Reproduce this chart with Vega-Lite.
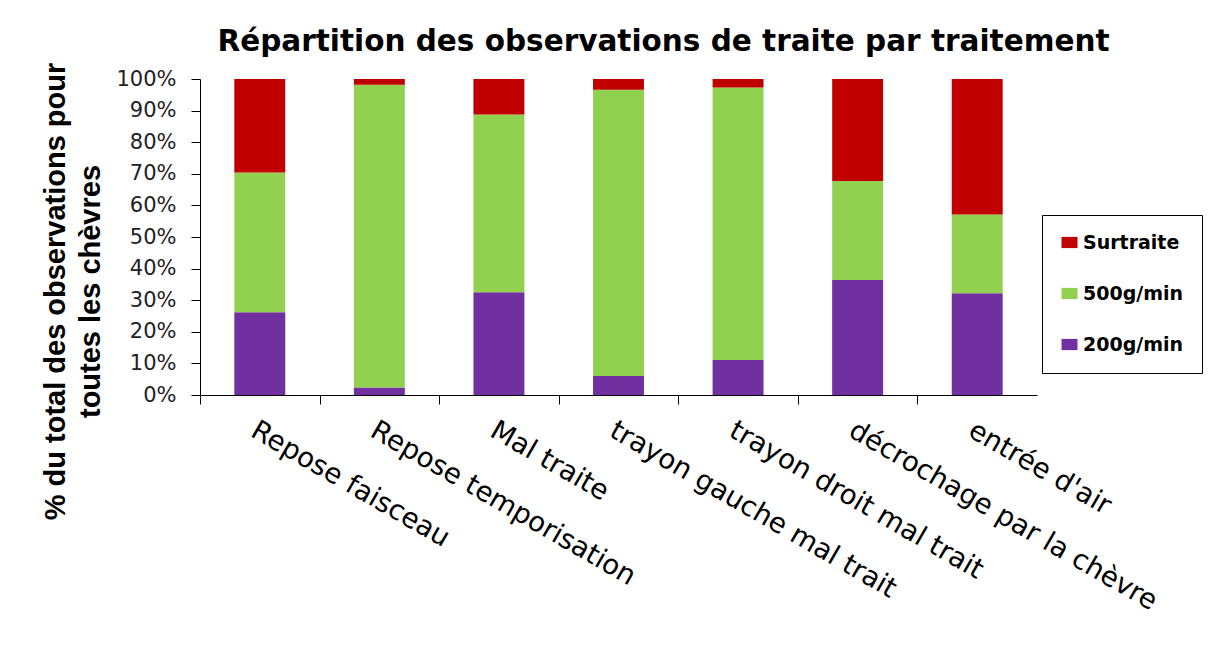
{
  "$schema": "https://vega.github.io/schema/vega-lite/v6.json",
  "width": 837,
  "height": 316,
  "autosize": {"type": "none"},
  "padding": {"left": 200, "top": 79, "right": 180, "bottom": 273},
  "background": "white",
  "title": {
    "text": "Répartition des observations de traite par traitement",
    "font": "DejaVu Sans",
    "fontSize": 29.5,
    "fontWeight": "bold",
    "color": "black",
    "anchor": "middle",
    "frame": "group",
    "dx": 45,
    "offset": 5
  },
  "data": {
    "values": [
      {"traitement": "Repose faisceau", "serie": "200g/min", "valeur": 26.2},
      {"traitement": "Repose faisceau", "serie": "500g/min", "valeur": 44.2},
      {"traitement": "Repose faisceau", "serie": "Surtraite", "valeur": 29.6},
      {"traitement": "Repose temporisation", "serie": "200g/min", "valeur": 2.4},
      {"traitement": "Repose temporisation", "serie": "500g/min", "valeur": 95.8},
      {"traitement": "Repose temporisation", "serie": "Surtraite", "valeur": 1.8},
      {"traitement": "Mal traite", "serie": "200g/min", "valeur": 32.5},
      {"traitement": "Mal traite", "serie": "500g/min", "valeur": 56.3},
      {"traitement": "Mal traite", "serie": "Surtraite", "valeur": 11.2},
      {"traitement": "trayon gauche mal trait", "serie": "200g/min", "valeur": 6.0},
      {"traitement": "trayon gauche mal trait", "serie": "500g/min", "valeur": 90.6},
      {"traitement": "trayon gauche mal trait", "serie": "Surtraite", "valeur": 3.4},
      {"traitement": "trayon droit mal trait", "serie": "200g/min", "valeur": 11.1},
      {"traitement": "trayon droit mal trait", "serie": "500g/min", "valeur": 86.2},
      {"traitement": "trayon droit mal trait", "serie": "Surtraite", "valeur": 2.7},
      {"traitement": "décrochage par la chèvre", "serie": "200g/min", "valeur": 36.4},
      {"traitement": "décrochage par la chèvre", "serie": "500g/min", "valeur": 31.3},
      {"traitement": "décrochage par la chèvre", "serie": "Surtraite", "valeur": 32.3},
      {"traitement": "entrée d'air", "serie": "200g/min", "valeur": 32.2},
      {"traitement": "entrée d'air", "serie": "500g/min", "valeur": 24.9},
      {"traitement": "entrée d'air", "serie": "Surtraite", "valeur": 42.9}
    ]
  },
  "mark": {"type": "bar"},
  "encoding": {
    "x": {
      "field": "traitement",
      "type": "nominal",
      "sort": ["Repose faisceau", "Repose temporisation", "Mal traite", "trayon gauche mal trait", "trayon droit mal trait", "décrochage par la chèvre", "entrée d'air"],
      "scale": {"paddingInner": 0.574, "paddingOuter": 0.287},
      "axis": {
        "title": null,
        "tickOffset": -59.8,
        "labelOffset": 59.8,
        "labelAngle": 30,
        "labelAlign": "left",
        "labelBaseline": "top",
        "labelFont": "DejaVu Sans",
        "labelFontSize": 27.5,
        "labelColor": "black",
        "labelPadding": 12,
        "labelLimit": 0,
        "labelOverlap": false,
        "labelBound": false,
        "tickSize": 9,
        "tickColor": "black",
        "domainColor": "black",
        "domainWidth": 1,
        "grid": false
      }
    },
    "y": {
      "field": "valeur",
      "type": "quantitative",
      "aggregate": "sum",
      "stack": "normalize",
      "scale": {"domain": [0, 1], "nice": false},
      "axis": {
        "title": ["% du total des observations pour", "toutes les chèvres"],
        "titleFont": "Liberation Sans",
        "titleFontSize": 29,
        "titleFontWeight": "bold",
        "titleColor": "black",
        "titleX": -130,
        "titleY": 212,
        "titleAlign": "center",
        "titleBaseline": "bottom",
        "titleLineHeight": 35,
        "values": [0, 0.1, 0.2, 0.3, 0.4, 0.5, 0.6, 0.7, 0.8, 0.9, 1],
        "format": ".0%",
        "labelFont": "DejaVu Sans",
        "labelFontSize": 21,
        "labelColor": "#222222",
        "labelPadding": 15,
        "tickSize": 9,
        "tickColor": "black",
        "domainColor": "black",
        "grid": false
      }
    },
    "color": {
      "field": "serie",
      "type": "nominal",
      "scale": {"domain": ["Surtraite", "500g/min", "200g/min"], "range": ["#C00000", "#92D050", "#7030A0"]},
      "legend": {
        "title": null,
        "orient": "none",
        "legendX": 842,
        "legendY": 136,
        "strokeColor": "black",
        "padding": 18,
        "rowPadding": 31,
        "symbolType": "M-1,-0.7H1V0.7H-1Z",
        "symbolSize": 256,
        "symbolStrokeWidth": 0,
        "symbolOpacity": 1,
        "labelFont": "DejaVu Sans",
        "labelFontSize": 19,
        "labelFontWeight": "bold",
        "labelColor": "black",
        "labelOffset": 4
      }
    },
    "order": {"field": "serie", "sort": "ascending"}
  },
  "config": {"view": {"stroke": null}}
}
